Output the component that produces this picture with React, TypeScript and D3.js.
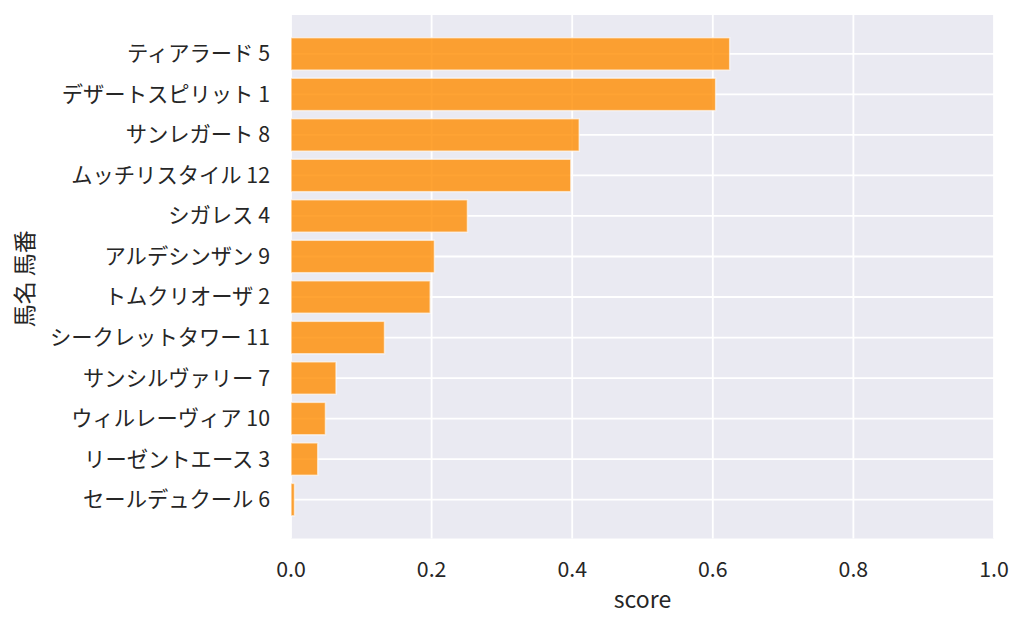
import React from "react";
import * as d3 from "d3";

// horses sorted by score (top to bottom)
const horseNames = [
  "ティアラード 5",
  "デザートスピリット 1",
  "サンレガート 8",
  "ムッチリスタイル 12",
  "シガレス 4",
  "アルデシンザン 9",
  "トムクリオーザ 2",
  "シークレットタワー 11",
  "サンシルヴァリー 7",
  "ウィルレーヴィア 10",
  "リーゼントエース 3",
  "セールデュクール 6",
];
const scores = [
  0.624, 0.604, 0.41, 0.398, 0.251, 0.204, 0.198, 0.133, 0.064, 0.049, 0.038,
  0.005,
];
const xTicks = [0, 0.2, 0.4, 0.6, 0.8, 1.0];

const W = 1024;
const H = 627;
const margin = { left: 291, right: 30, top: 15, bottom: 88.5 };
const FONT = "'Noto Sans CJK JP', 'Noto Sans', sans-serif";

const App: React.FC = () => {
  const plotW = W - margin.left - margin.right;
  const plotH = H - margin.top - margin.bottom;

  const x = d3.scaleLinear().domain([0, 1]).range([margin.left, margin.left + plotW]);
  const y = d3
    .scalePoint<string>()
    .domain(horseNames)
    .range([margin.top, margin.top + plotH])
    .padding(0.96);
  const barH = y.step() * 0.8;

  const rows = horseNames.map((name, i) => ({ name, score: scores[i] }));

  return (
    <div style={{ position: "fixed", top: 0, left: 0 }}>
      <svg width={W} height={H} style={{ display: "block", background: "#fff" }}>
        <rect
          x={margin.left}
          y={margin.top}
          width={plotW}
          height={plotH}
          fill="#eaeaf2"
        />
        {/* grid */}
        {xTicks.map((t) => (
          <line
            key={"gx" + t}
            x1={x(t)}
            x2={x(t)}
            y1={margin.top}
            y2={margin.top + plotH}
            stroke="#fff"
            strokeWidth={1.8}
          />
        ))}
        {horseNames.map((n) => (
          <line
            key={"gy" + n}
            x1={margin.left}
            x2={margin.left + plotW}
            y1={y(n)}
            y2={y(n)}
            stroke="#fff"
            strokeWidth={1.8}
          />
        ))}
        {/* bars */}
        {rows.map((d) => (
          <rect
            key={d.name}
            x={x(0)}
            y={(y(d.name) as number) - barH / 2}
            width={x(d.score) - x(0)}
            height={barH}
            fill="#ff8c00"
            fillOpacity={0.8}
            stroke="#fff"
            strokeOpacity={0.6}
            strokeWidth={1.5}
          />
        ))}
        {/* y tick labels */}
        {horseNames.map((n) => (
          <text
            key={"ty" + n}
            x={margin.left - 21}
            y={y(n)}
            dy="0.35em"
            textAnchor="end"
            fontFamily={FONT}
            fontSize={21.3}
            fill="#262626"
          >
            {n}
          </text>
        ))}
        {/* x tick labels */}
        {xTicks.map((t) => (
          <text
            key={"tx" + t}
            x={x(t)}
            y={570}
            dy="0.35em"
            textAnchor="middle"
            fontFamily={FONT}
            fontSize={21.3}
            fill="#262626"
          >
            {d3.format(".1f")(t)}
          </text>
        ))}
        <text
          x={margin.left + plotW / 2}
          y={600}
          dy="0.35em"
          textAnchor="middle"
          fontFamily={FONT}
          fontSize={23}
          fill="#262626"
        >
          score
        </text>
        <text
          transform={`translate(25, ${margin.top + plotH / 2 + 2}) rotate(-90)`}
          dy="0.35em"
          textAnchor="middle"
          fontFamily={FONT}
          fontSize={23}
          fill="#262626"
        >
          馬名 馬番
        </text>
      </svg>
    </div>
  );
};

export default App;
